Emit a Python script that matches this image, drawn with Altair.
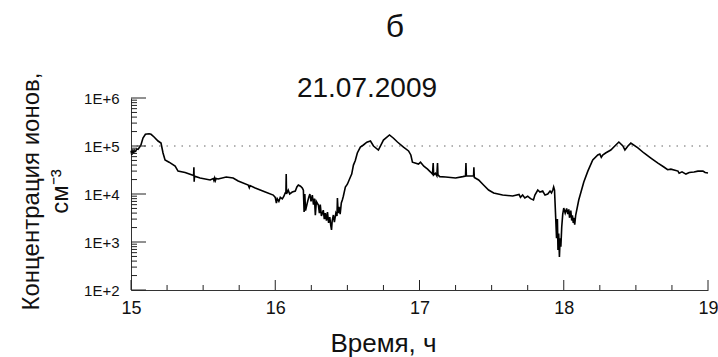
import altair as alt
import pandas as pd

hours = [15.000, 15.006, 15.012, 15.018, 15.024, 15.032, 15.040, 15.049, 15.060, 15.069,
         15.083, 15.100, 15.111, 15.125, 15.139, 15.160, 15.1875, 15.208, 15.222, 15.236,
         15.264, 15.306, 15.326, 15.375, 15.424, 15.434, 15.436, 15.438, 15.440, 15.479,
         15.549, 15.570, 15.575, 15.580, 15.585, 15.590, 15.604, 15.660, 15.708, 15.743,
         15.8125, 15.820, 15.825, 15.861, 15.931, 15.986, 16.000, 16.008, 16.014, 16.025,
         16.035, 16.049, 16.060, 16.069, 16.074, 16.076, 16.078, 16.090, 16.100, 16.118,
         16.139, 16.150, 16.160, 16.175, 16.1875, 16.195, 16.200, 16.205, 16.210, 16.222,
         16.232, 16.240, 16.248, 16.257, 16.265, 16.272, 16.278, 16.285, 16.299, 16.306,
         16.312, 16.320, 16.333, 16.340, 16.347, 16.355, 16.362, 16.370, 16.378, 16.385,
         16.390, 16.395, 16.403, 16.410, 16.420, 16.428, 16.431, 16.436, 16.442, 16.450,
         16.458, 16.465, 16.472, 16.486, 16.500, 16.521, 16.530, 16.542, 16.555, 16.569,
         16.590, 16.611, 16.635, 16.660, 16.681, 16.715, 16.750, 16.792, 16.820, 16.847,
         16.889, 16.924, 16.940, 16.951, 16.993, 17.007, 17.030, 17.056, 17.075, 17.090,
         17.095, 17.098, 17.110, 17.120, 17.125, 17.128, 17.140, 17.181, 17.250, 17.300,
         17.319, 17.322, 17.325, 17.375, 17.377, 17.380, 17.410, 17.444, 17.479, 17.514,
         17.576, 17.646, 17.690, 17.700, 17.715, 17.730, 17.750, 17.770, 17.790, 17.800,
         17.820, 17.835, 17.854, 17.870, 17.889, 17.905, 17.915, 17.924, 17.930, 17.936,
         17.944, 17.950, 17.956, 17.960, 17.965, 17.970, 17.975, 17.980, 17.986, 17.993,
         18.000, 18.010, 18.020, 18.028, 18.035, 18.040, 18.049, 18.055, 18.060, 18.066,
         18.069, 18.076, 18.083, 18.104, 18.139, 18.167, 18.201, 18.236, 18.250, 18.260,
         18.270, 18.290, 18.326, 18.361, 18.382, 18.410, 18.424, 18.445, 18.465, 18.514,
         18.556, 18.604, 18.653, 18.694, 18.720, 18.743, 18.792, 18.800, 18.820, 18.847,
         18.870, 18.903, 18.930, 18.965, 18.980, 19.000]

conc = [8.0e4, 6.5e4, 8.5e4, 7.0e4, 8.2e4, 7.8e4, 8.7e4, 8.5e4, 9.5e4, 1.05e5,
        1.47e5, 1.75e5, 1.78e5, 1.80e5, 1.75e5, 1.54e5, 1.27e5, 1.15e5, 7.15e4, 5.1e4,
        4.6e4, 3.8e4, 3.0e4, 2.8e4, 2.5e4, 2.4e4, 3.6e4, 1.8e4, 2.35e4, 2.15e4,
        1.96e4, 2.1e4, 1.9e4, 2.15e4, 1.9e4, 2.1e4, 2.05e4, 2.26e4, 2.15e4, 1.87e4,
        1.54e4, 1.35e4, 1.5e4, 1.33e4, 1.1e4, 9.5e3, 8.5e3, 6.5e3, 8.0e3, 7.0e3,
        8.5e3, 7.9e3, 9.0e3, 1.05e4, 1.1e4, 2.6e4, 1.0e4, 1.2e4, 1.0e4, 1.1e4,
        1.15e4, 1.4e4, 1.54e4, 1.45e4, 1.33e4, 1.2e4, 4.2e3, 1.0e4, 4.5e3, 6.5e3,
        8.5e3, 1.0e4, 7.0e3, 9.5e3, 6.0e3, 8.0e3, 3.6e3, 7.0e3, 5.9e3, 4.0e3,
        6.0e3, 3.5e3, 4.6e3, 3.0e3, 4.0e3, 2.8e3, 4.2e3, 2.5e3, 3.3e3, 2.2e3,
        1.78e3, 2.8e3, 3.65e3, 2.6e3, 4.0e3, 3.5e3, 8.25e3, 4.0e3, 5.4e3, 3.8e3,
        6.5e3, 7.5e3, 9.0e3, 1.4e4, 1.6e4, 2.26e4, 2.6e4, 4.0e4, 5.0e4, 7.15e4,
        9.5e4, 1.05e5, 1.2e5, 1.27e5, 1.0e5, 8.25e4, 1.33e5, 1.70e5, 1.45e5, 1.21e5,
        9.5e4, 7.9e4, 6.5e4, 4.6e4, 4.2e4, 4.6e4, 3.8e4, 3.3e4, 2.9e4, 2.6e4,
        4.4e4, 2.5e4, 2.7e4, 2.4e4, 4.4e4, 2.5e4, 2.3e4, 2.26e4, 2.15e4, 2.3e4,
        2.37e4, 4.4e4, 2.37e4, 2.4e4, 3.6e4, 2.2e4, 1.96e4, 1.54e4, 1.21e4, 1.05e4,
        9.5e3, 9.1e3, 9.8e3, 8.5e3, 9.5e3, 8.3e3, 9.0e3, 8.0e3, 7.5e3, 9.5e3,
        1.21e4, 1.1e4, 1.15e4, 9.5e3, 1.0e4, 1.15e4, 1.05e4, 1.21e4, 1.4e4, 1.2e4,
        3.3e3, 1.2e3, 3.0e3, 680, 1.5e3, 490, 1.2e3, 800, 2.05e3, 3.8e3,
        5.1e3, 4.0e3, 5.0e3, 3.8e3, 4.8e3, 3.2e3, 4.5e3, 2.8e3, 3.6e3, 2.5e3,
        3.2e3, 2.3e3, 3.65e3, 7.5e3, 1.78e4, 3.0e4, 5.1e4, 6.5e4, 6.8e4, 5.8e4,
        6.5e4, 7.15e4, 8.25e4, 1.05e5, 1.21e5, 1.0e5, 8.25e4, 1.0e5, 1.15e5, 9.1e4,
        7.15e4, 5.6e4, 4.4e4, 3.65e4, 3.2e4, 3.3e4, 3.0e4, 2.7e4, 2.9e4, 2.6e4,
        2.8e4, 2.87e4, 3.0e4, 3.0e4, 2.8e4, 2.74e4]

ref_level = [1e5]
y_major = [1e2, 1e3, 1e4, 1e5, 1e6]
y_minor = [k * 10 ** e for e in (2, 3, 4, 5) for k in range(2, 10)]
x_major = [15, 16, 17, 18, 19]
x_minor = [15.25, 15.5, 15.75, 16.25, 16.5, 16.75, 17.25, 17.5, 17.75, 18.25, 18.5, 18.75]
panel_label = ["б"]
date_label = ["21.07.2009"]

FONT = "Liberation Sans"
W, H = 577, 192
X0, X1 = 15, 19
Y0, Y1 = 1e2, 1e6
DEC = 4

xs = alt.Scale(domain=[X0, X1], nice=False, zero=False)
ys = alt.Scale(type="log", domain=[Y0, Y1], nice=False)

ax_x = alt.Axis(
    values=x_major, format="d", ticks=False, grid=False, domain=True, zindex=0,
    domainColor="#333", labelFont=FONT, labelFontSize=18, labelColor="#111",
    labelPadding=9, labelFlush=False, title="Время, ч", titleFont=FONT,
    titleFontSize=26, titleFontWeight="normal", titleColor="#111",
    titleX=252, titleY=61, titleAlign="center", titleBaseline="alphabetic")
ax_y = alt.Axis(
    values=y_major, ticks=False, grid=False, domain=True, domainColor="#333", zindex=0,
    labelExpr="'1E+' + round(log(datum.value) / LN10)", labelFlush=False,
    labelFont=FONT, labelFontSize=15, labelColor="#111", labelPadding=12,
    title=["Концентрация ионов,", "см⁻³"], titleFont=FONT, titleFontSize=24,
    titleFontWeight="normal", titleColor="#111", titleAngle=-90,
    titleX=-93, titleY=93, titleAlign="center", titleBaseline="alphabetic",
    titleLineHeight=29)

df = pd.DataFrame({"h": hours, "c": conc})

# tick marks: one table per tick kind, with start/end in data units
yt = pd.DataFrame({
    "c": y_major + y_minor,
    "h": [X0] * (len(y_major) + len(y_minor)),
    "h2": [X0 + 15 * (X1 - X0) / W] * len(y_major) + [X0 + 6 * (X1 - X0) / W] * len(y_minor),
})
xt = pd.DataFrame({
    "h": x_major + x_minor,
    "c": [Y0] * (len(x_major) + len(x_minor)),
    "c2": [Y0 * 10 ** (10 * DEC / H)] * len(x_major) + [Y0 * 10 ** (5 * DEC / H)] * len(x_minor),
})

line = alt.Chart(df).mark_line(color="black", strokeWidth=1.6, interpolate="linear").encode(
    x=alt.X("h:Q", scale=xs, axis=ax_x),
    y=alt.Y("c:Q", scale=ys, axis=ax_y),
)

refline = alt.Chart(pd.DataFrame({"c": ref_level})).mark_rule(
    color="#666", strokeWidth=1, strokeDash=[1.5, 6]).encode(
    y=alt.Y("c:Q", scale=ys, axis=ax_y))

yticks = alt.Chart(yt).mark_rule(color="#222", strokeWidth=1).encode(
    x=alt.X("h:Q", scale=xs, axis=ax_x), x2="h2:Q",
    y=alt.Y("c:Q", scale=ys, axis=ax_y))
xticks = alt.Chart(xt).mark_rule(color="#222", strokeWidth=1).encode(
    x=alt.X("h:Q", scale=xs, axis=ax_x),
    y=alt.Y("c:Q", scale=ys, axis=ax_y), y2="c2:Q")

ttl = alt.Chart(pd.DataFrame({"t": panel_label})).mark_text(
    font=FONT, fontSize=32, color="#111", align="center", baseline="alphabetic").encode(
    text="t:N", x=alt.value(264), y=alt.value(-61))
date = alt.Chart(pd.DataFrame({"t": date_label})).mark_text(
    font=FONT, fontSize=28, color="#111", align="center", baseline="alphabetic").encode(
    text="t:N", x=alt.value(236), y=alt.value(-1))

chart = alt.layer(refline, line, ttl, date, yticks, xticks).properties(
    width=W, height=H,
    autosize=alt.AutoSizeParams(type="none"),
    padding={"left": 131, "top": 98, "right": 10, "bottom": 67},
    background="white",
).configure_view(stroke=None)

chart.save("out.html", embed_options={"renderer": "svg", "actions": False})
